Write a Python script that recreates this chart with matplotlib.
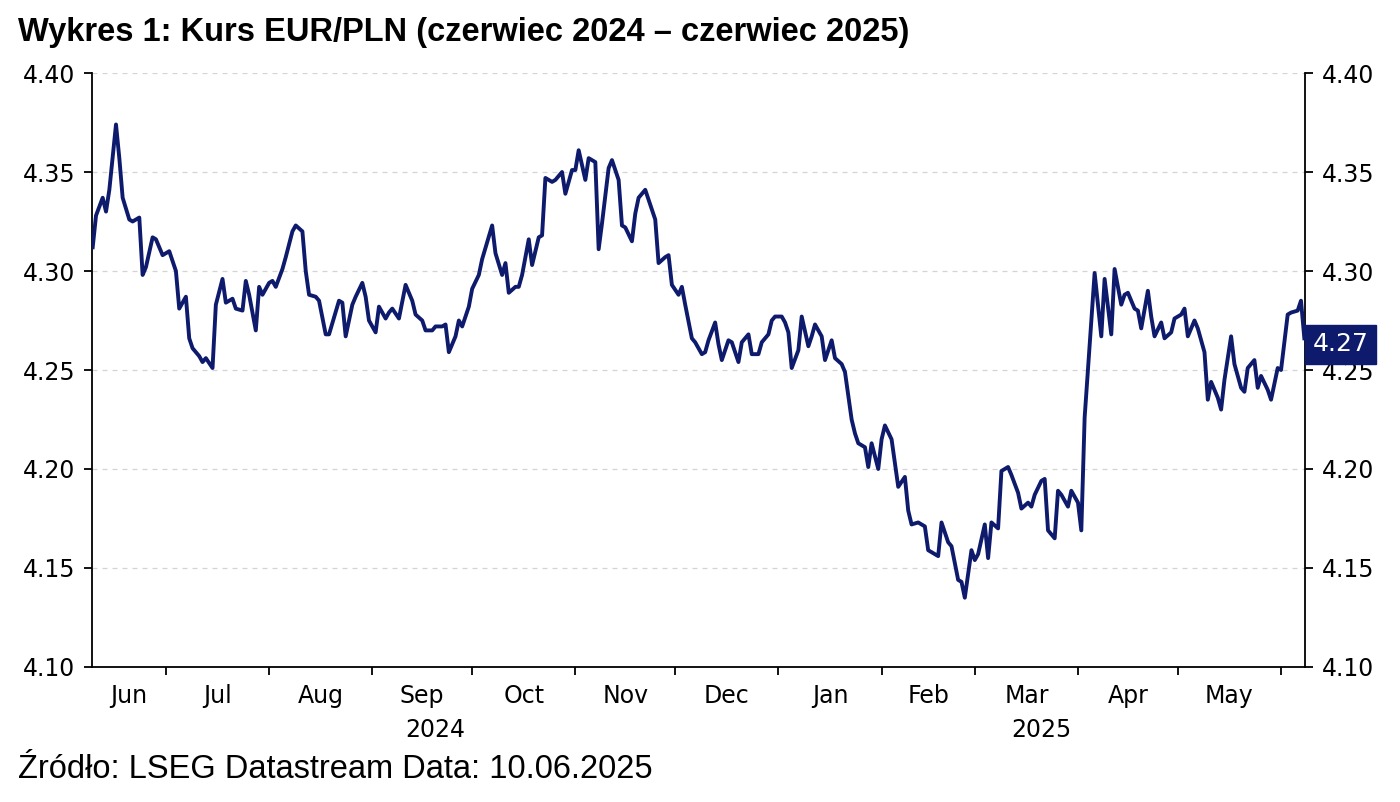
import numpy as np
import pandas as pd
import matplotlib
matplotlib.use('Agg')
import matplotlib.pyplot as plt
import matplotlib.transforms as mtransforms

# daily EUR/PLN fixing (days counted from start date)
start = '2024-06-09'
day_offsets = [
    0, 1, 3, 4, 5, 7, 8, 9, 11, 12, 14, 15, 16, 18, 19, 21, 23, 25, 26, 28, 29, 30,
    32, 33, 34, 36, 37, 39, 40, 42, 43, 45, 46, 47, 49, 50, 51, 53, 54, 55, 57, 58,
    60, 61,
    63, 64, 65, 67, 68, 70, 71, 74, 75, 76, 78, 79, 81, 82, 83, 85, 86, 88, 89, 90,
    92, 94, 96, 97, 99, 100, 102, 103, 105, 106, 107, 109, 110, 111, 113, 114, 116,
    117, 120,
    121, 123, 124, 125, 127, 128, 129, 131, 132, 134, 135, 136, 138, 139, 141, 142,
    144, 145, 146, 148, 149, 151, 152, 153, 155, 156, 158, 159, 160, 162, 163, 164,
    166, 167, 169, 170, 172, 173, 174, 176, 177, 178, 180, 181,
    183, 184, 185, 187, 188, 189, 191, 192, 194, 195, 197, 198, 200, 201, 203, 204,
    205, 207, 208, 209, 210, 212, 213, 215, 216, 217, 219, 220, 222, 223, 225, 226,
    228, 229, 230, 232, 233, 234, 236, 237, 238, 240, 241,
    242, 244, 245, 246, 248, 250, 251, 252, 254, 255, 257, 258, 260, 261, 262, 264,
    265, 266, 268, 269, 270, 272, 273, 275, 276, 278, 279, 281, 282, 283, 285, 286,
    287, 289, 290, 291, 293, 294, 296, 297, 298,
    301, 303, 304, 306, 307, 309, 310, 311, 313, 314, 315, 317, 318, 319, 321, 322,
    324, 325, 327, 328, 329, 331, 332, 334, 335, 336, 338, 339, 340, 342, 343, 345,
    346, 347, 349, 350, 351, 353, 354, 356, 357, 359, 360, 362, 363, 364]
eur_pln = [
    4.312, 4.328, 4.337, 4.330, 4.341, 4.374, 4.357, 4.337, 4.326, 4.325, 4.327,
    4.298, 4.302, 4.317, 4.316, 4.308, 4.310, 4.300, 4.281, 4.287, 4.266, 4.261,
    4.257, 4.254, 4.256, 4.251, 4.283, 4.296, 4.284, 4.286, 4.281, 4.280, 4.295,
    4.288, 4.270, 4.292, 4.288, 4.294, 4.295, 4.292, 4.301, 4.307, 4.320, 4.323,
    4.320, 4.300, 4.288, 4.287, 4.285, 4.268, 4.268, 4.285, 4.284, 4.267, 4.283,
    4.287, 4.294, 4.287, 4.275, 4.269, 4.282, 4.276, 4.279, 4.281, 4.276, 4.293,
    4.285, 4.278, 4.275, 4.270, 4.270, 4.272, 4.272, 4.273, 4.259, 4.267, 4.275,
    4.272, 4.282, 4.291, 4.298, 4.306, 4.323,
    4.309, 4.298, 4.304, 4.289, 4.292, 4.292, 4.298, 4.316, 4.303, 4.317, 4.318,
    4.347, 4.345, 4.346, 4.350, 4.339, 4.351, 4.351, 4.361, 4.346, 4.357, 4.355,
    4.311, 4.324, 4.352, 4.356, 4.346, 4.323, 4.322, 4.315, 4.329, 4.337, 4.341,
    4.336, 4.326, 4.304, 4.307, 4.308, 4.293, 4.288, 4.292, 4.283, 4.266, 4.264,
    4.258, 4.259, 4.265, 4.274, 4.263, 4.255, 4.265, 4.264, 4.254, 4.264, 4.268,
    4.258, 4.258, 4.264, 4.268, 4.275, 4.277, 4.277, 4.274, 4.269, 4.251, 4.260,
    4.277, 4.262, 4.267, 4.273, 4.267, 4.255, 4.265, 4.256, 4.253, 4.249, 4.225,
    4.218, 4.213, 4.211, 4.201, 4.213, 4.200, 4.215, 4.222, 4.215, 4.203,
    4.191, 4.196, 4.179, 4.172, 4.173, 4.171, 4.159, 4.158, 4.156, 4.173, 4.163,
    4.161, 4.144, 4.143, 4.135, 4.159, 4.154, 4.157, 4.172, 4.155, 4.173, 4.170,
    4.199, 4.201, 4.197, 4.188, 4.180, 4.183, 4.181, 4.187, 4.194, 4.195, 4.169,
    4.165, 4.189, 4.187, 4.181, 4.189, 4.183, 4.169, 4.226,
    4.299, 4.267, 4.296, 4.268, 4.301, 4.283, 4.288, 4.289, 4.281, 4.280, 4.271,
    4.290, 4.277, 4.267, 4.274, 4.266, 4.269, 4.276, 4.278, 4.281, 4.267, 4.275,
    4.271, 4.259, 4.235, 4.244, 4.236, 4.230, 4.245, 4.267, 4.253, 4.241, 4.239,
    4.251, 4.255, 4.241, 4.247, 4.240, 4.235, 4.251, 4.250, 4.278, 4.279, 4.280,
    4.285, 4.266]

month_names = ['Jun', 'Jul', 'Aug', 'Sep', 'Oct', 'Nov', 'Dec',
               'Jan', 'Feb', 'Mar', 'Apr', 'May']
years = ['2024', '2025']
y_ticks = [4.10, 4.15, 4.20, 4.25, 4.30, 4.35, 4.40]
last_label = '4.27'
title = 'Wykres 1: Kurs EUR/PLN (czerwiec 2024 – czerwiec 2025)'
source = 'Źródło: LSEG Datastream Data: 10.06.2025'

navy = '#0e1a6c'
ftsize = 17

t0 = pd.Timestamp(start)
dates = t0 + pd.to_timedelta(day_offsets, unit='D')
x_lo = t0 - pd.Timedelta(hours=5)
x_hi = t0 + pd.Timedelta(days=364.2)

fig = plt.figure(figsize=(14, 8.02), dpi=100)
ax = fig.add_axes([92 / 1400, 1 - 667 / 802, 1213 / 1400, 594 / 802])

ax.plot(dates, eur_pln, color=navy, lw=2.8, zorder=3)

ax.set_xlim(x_lo, x_hi)
ax.set_ylim(4.10, 4.40)

# month boundaries as ticks, month names centred in between
bounds = list(pd.date_range('2024-07-01', '2025-06-01', freq='MS'))
edges = [x_lo] + bounds
mids = [a + (b - a) / 2 for a, b in zip(edges[:-1], edges[1:])]
ax.set_xticks(bounds)
ax.set_xticklabels([''] * len(bounds))
ax.set_xticks(mids, minor=True)
ax.set_xticklabels(month_names, minor=True)
ax.tick_params(axis='x', which='major', direction='out', length=6,
               width=1.3, color='black')
ax.tick_params(axis='x', which='minor', length=0, pad=12, labelsize=ftsize)

# year labels
jan = pd.Timestamp('2025-01-01')
trans = mtransforms.blended_transform_factory(ax.transData, ax.transAxes)
for yr, (a, b) in zip(years, [(x_lo, jan), (jan, x_hi)]):
    ax.text(a + (b - a) / 2, -0.106, yr, transform=trans, ha='center',
            va='center', fontsize=ftsize)

ax.set_yticks(y_ticks)
ax.set_yticklabels(['{0:.2f}'.format(v) for v in y_ticks])
ax.tick_params(axis='y', which='major', direction='out', length=6, width=1.3,
               left=True, right=True, labelleft=True, labelright=True,
               labelsize=ftsize, pad=6)

ax.yaxis.grid(True, linestyle=(0, (4, 4)), color='#d4d4d4', lw=0.9)
ax.set_axisbelow(True)

for side in ['left', 'right', 'bottom']:
    ax.spines[side].set_linewidth(1.3)
    ax.spines[side].set_color('black')
ax.spines['top'].set_visible(False)

# last value box on the right axis
trans_r = mtransforms.blended_transform_factory(ax.transAxes, ax.transData)
ax.text(1.006, eur_pln[-1] - 0.003, last_label, transform=trans_r, ha='left',
        va='center', fontsize=18, color='white', zorder=5,
        bbox=dict(boxstyle='square,pad=0.3', fc=navy, ec=navy))

fig.text(18 / 1400, 1 - 33 / 802, title, fontsize=23.5, fontweight='bold',
         family='Liberation Sans', ha='left', va='center')
fig.text(18 / 1400, 1 - 770 / 802, source, fontsize=23.5,
         family='Liberation Sans', ha='left', va='center')

plt.savefig('out.png', dpi=100)
